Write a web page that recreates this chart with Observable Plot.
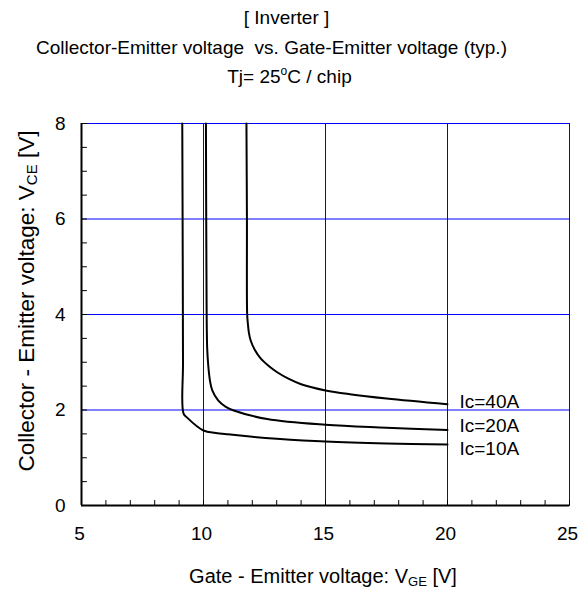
<!DOCTYPE html>
<html>
<head>
<meta charset="utf-8">
<script src="https://cdn.jsdelivr.net/npm/d3@7"></script>
<script src="https://cdn.jsdelivr.net/npm/@observablehq/plot@0.6"></script>
<style>
  body { margin: 0; background: #fff; font-family: "Liberation Sans", Arial, sans-serif; }
  #titles { width: 587px; height: 92px; padding-top: 3px; text-align: center; font-size: 19px; line-height: 29.5px; color: #000; box-sizing: content-box; }
  #titles div { white-space: pre; position: relative; }
  sup { font-size: 12px; vertical-align: 8px; line-height: 0; }
</style>
</head>
<body>
<div id="titles">
  <div style="left:-7px">[ Inverter ]</div>
  <div style="left:-22px">Collector-Emitter voltage  vs. Gate-Emitter voltage (typ.)</div>
  <div style="left:-4px">Tj= 25<sup>o</sup>C / chip</div>
</div>
<div id="chart"></div>
<script>
// ---- data ----
const seriesNames = ["Ic=10A", "Ic=20A", "Ic=40A"];
const ic10_vge = [9.13, 9.15, 9.16, 9.18, 9.33, 10.0, 10.5, 11.0, 12.0, 13.0, 15.0, 17.5, 20.0];
const ic10_vce = [8.0, 5.0, 3.0, 1.93, 1.84, 1.57, 1.52, 1.49, 1.44, 1.40, 1.34, 1.30, 1.28];
const ic20_vge = [10.1, 10.12, 10.15, 10.2, 10.27, 10.36, 10.6, 10.9, 11.24, 12.61, 15.0, 17.5, 20.0];
const ic20_vce = [8.0, 5.0, 3.31, 2.9, 2.6, 2.41, 2.2, 2.07, 1.99, 1.81, 1.69, 1.63, 1.58];
const ic40_vge = [11.76, 11.78, 11.79, 11.82, 11.86, 11.93, 12.1, 12.34, 12.7, 13.02, 13.5, 14.0, 15.0, 16.0, 17.5, 20.0];
const ic40_vce = [8.0, 6.0, 4.0, 3.8, 3.62, 3.46, 3.26, 3.08, 2.91, 2.79, 2.65, 2.54, 2.41, 2.33, 2.24, 2.12];
const xTicks = [5, 10, 15, 20, 25];
const yTicks = [0, 2, 4, 6, 8];
const xMinor = d3.range(5, 25.01, 1);
const yMinor = d3.range(0, 8.01, 0.5);

const build = (name, xs, ys) => xs.map((x, i) => ({series: name, vge: x, vce: ys[i]}));
const curves = [
  build(seriesNames[0], ic10_vge, ic10_vce),
  build(seriesNames[1], ic20_vge, ic20_vce),
  build(seriesNames[2], ic40_vge, ic40_vce)
];
const ends = curves.map(c => c[c.length - 1]);
const labelDy = {"Ic=10A": 4.5, "Ic=20A": -4.5, "Ic=40A": -2};

const tickUp = {draw(ctx, l) { ctx.moveTo(0, 0); ctx.lineTo(0, -l); }};
const BLUE = "#0000ff";

const plot = Plot.plot({
  width: 587,
  height: 496,
  marginLeft: 81,
  marginRight: 18,
  marginTop: 28,
  marginBottom: 86,
  style: {fontFamily: "Liberation Sans, Arial, sans-serif", fontSize: "19px", color: "#000", background: "#fff"},
  x: {domain: [5, 25]},
  y: {domain: [0, 8]},
  marks: [
    Plot.ruleX([10, 15, 20, 25], {stroke: BLUE, strokeWidth: 1}),
    Plot.ruleY([2, 4, 6, 8], {stroke: BLUE, strokeWidth: 1}),
    Plot.vector(xMinor, {x: d => d, y: 0, length: 5, anchor: "start", rotate: 0, shape: tickUp, stroke: "#000", strokeWidth: 1}),
    Plot.vector(yMinor, {x: 5, y: d => d, length: 5, anchor: "start", rotate: 90, shape: tickUp, stroke: "#000", strokeWidth: 1}),
    Plot.ruleX([5], {stroke: "#000", strokeWidth: 2}),
    Plot.ruleY([0], {stroke: "#000", strokeWidth: 2}),
    Plot.axisX({ticks: xTicks, tickSize: 0, tickPadding: 21, dx: -2, label: null, fontSize: 19}),
    Plot.axisY({ticks: yTicks, tickSize: 0, tickPadding: 16, label: null, fontSize: 19}),
    ...curves.map(c => Plot.line(c, {x: "vge", y: "vce", stroke: "#000", strokeWidth: 2, curve: "catmull-rom"})),
    ...ends.map(e => Plot.text([e], {x: "vge", y: "vce", text: "series", textAnchor: "start", dx: 12, dy: labelDy[e.series], fontSize: 19, fill: "#000"}))
  ]
});
document.getElementById("chart").appendChild(plot);

// axis titles with subscripts
const svg = d3.select(plot);
const xt = svg.append("text")
  .attr("x", 323).attr("y", 488).attr("text-anchor", "middle")
  .attr("font-size", 20).attr("fill", "#000");
xt.append("tspan").text("Gate - Emitter voltage: V");
xt.append("tspan").attr("font-size", 13).attr("dy", 3).text("GE");
xt.append("tspan").attr("dy", -3).text(" [V]");

const yt = svg.append("text")
  .attr("transform", "translate(34,206) rotate(-90)").attr("text-anchor", "middle")
  .attr("font-size", 22.5).attr("fill", "#000");
yt.append("tspan").text("Collector - Emitter voltage: V");
yt.append("tspan").attr("font-size", 15).attr("dy", 3).text("CE");
yt.append("tspan").attr("dy", -3).text(" [V]");
</script>
</body>
</html>
